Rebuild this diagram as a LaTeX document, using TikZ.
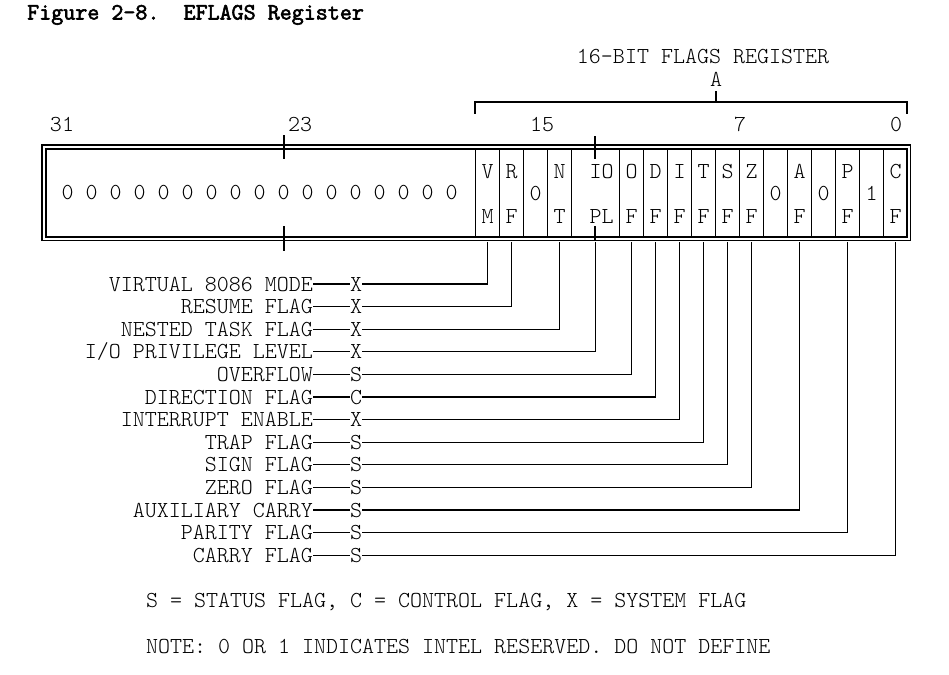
\documentclass[tikz,border=0pt]{standalone}
\usepackage{fontspec}
\setmonofont{Latin Modern Mono Light}
\newfontfamily\titlefont{Latin Modern Mono}[FakeBold=2.5]
\begin{document}
\begin{tikzpicture}[x=1pt,y=-1pt,
  font=\ttfamily\fontsize{22.86}{26}\selectfont,
  txt/.style={inner sep=0pt, text height=14pt, text depth=0pt},
  ln/.style={line width=1.3pt, line cap=rect},
  cellbox/.style={draw, line width=1.3pt, minimum width=#1, minimum height=88pt, inner sep=0pt, anchor=north west},
  cellbox/.default=24pt,
]
\useasboundingbox (0,0) rectangle (949,674);

% title
\node[txt, anchor=west, font=\titlefont\fontsize{23.35}{26}\selectfont] (title) at (27,12.5) {Figure 2-8.\ \ EFLAGS Register};

% heading and bracket
\node[txt] (head) at (703,57) {16-BIT FLAGS REGISTER};
\node[txt] (hA) at (716,80) {A};
\draw[ln] (475,113) -- (475,102) -- (907,102) -- (907,113);
\draw[ln] (716,102) -- (716,92);

% bit numbers
\node[txt] (n31) at (62,124.5) {31};
\node[txt] (n23) at (300,124.5) {23};
\node[txt] (n15) at (542,124.5) {15};
\node[txt] (n7)  at (740,124.5) {7};
\node[txt] (n0)  at (896,124.5) {0};

% register outline (double)
\draw[ln] (42,145) rectangle (910.5,240.5);
\draw[ln] (46,149) rectangle (907,237);

% upper zeros
\foreach \i in {0,...,16} {
  \node[txt] (z\i) at (67.5+24*\i,192) {0};
}

% cells
\node[cellbox] (vm)   at (475,149) {};
\node[cellbox] (rf)   at (499,149) {};
\node[cellbox] (b15)  at (523,149) {};
\node[cellbox] (nt)   at (547,149) {};
\node[cellbox=48pt] (iopl) at (571,149) {};
\node[cellbox] (of)   at (619,149) {};
\node[cellbox] (df)   at (643,149) {};
\node[cellbox] (if)   at (667,149) {};
\node[cellbox] (tf)   at (691,149) {};
\node[cellbox] (sf)   at (715,149) {};
\node[cellbox] (zf)   at (739,149) {};
\node[cellbox] (b5)   at (763,149) {};
\node[cellbox] (af)   at (787,149) {};
\node[cellbox] (b3)   at (811,149) {};
\node[cellbox] (pf)   at (835,149) {};
\node[cellbox] (b1)   at (859,149) {};
\node[cellbox] (cf)   at (883,149) {};

% cell texts
\foreach \c/\t/\b in {vm/V/M, rf/R/F, nt/N/T, of/O/F, df/D/F, if/I/F, tf/T/F, sf/S/F, zf/Z/F, af/A/F, pf/P/F, cf/C/F} {
  \node[txt] (\c t) at (\c.center |- 0,171.5) {\t};
  \node[txt] (\c b) at (\c.center |- 0,216) {\b};
}
\node[txt] (ioplt) at ([xshift=6pt]iopl.center |- 0,171.5) {IO};
\node[txt] (ioplb) at ([xshift=6pt]iopl.center |- 0,216) {PL};
\node[txt] (b15m) at (b15.center |- 0,193.5) {0};
\node[txt] (b5m)  at (b5.center |- 0,193.5) {0};
\node[txt] (b3m)  at (b3.center |- 0,193.5) {0};
\node[txt] (b1m)  at (b1.center |- 0,193.5) {1};

% ticks
\draw[ln] (284,136) -- (284,158);
\draw[ln] (284,227) -- (284,250);
\draw[ln] (595,137) -- (595,158);
\draw[ln] (595,227) -- (595,240);

% flag labels and connectors
\foreach \c/\name/\k [count=\i from 0] in {
  vm/VIRTUAL 8086 MODE/X,
  rf/RESUME FLAG/X,
  nt/NESTED TASK FLAG/X,
  iopl/I\slash O PRIVILEGE LEVEL/X,
  of/OVERFLOW/S,
  df/DIRECTION FLAG/C,
  if/INTERRUPT ENABLE/X,
  tf/TRAP FLAG/S,
  sf/SIGN FLAG/S,
  zf/ZERO FLAG/S,
  af/AUXILIARY CARRY/S,
  pf/PARITY FLAG/S,
  cf/CARRY FLAG/S} {
  \node[txt, anchor=east] (l\c) at (313,284+22.6*\i) {\name};
  \node[txt] (k\c) at (356,284+22.6*\i) {\k};
  \draw[ln, line cap=butt] (l\c.east) -- (k\c.west);
  \draw[ln, line cap=butt] ([yshift=-3.5pt]\c.south) |- (k\c.east);
}

% notes
\node[txt, anchor=west] (note1) at (146,600.5) {S = STATUS FLAG, C = CONTROL FLAG, X = SYSTEM FLAG};
\node[txt, anchor=west] (note2) at (146,646.5) {NOTE: 0 OR 1 INDICATES INTEL RESERVED. DO NOT DEFINE};
\end{tikzpicture}
\end{document}
